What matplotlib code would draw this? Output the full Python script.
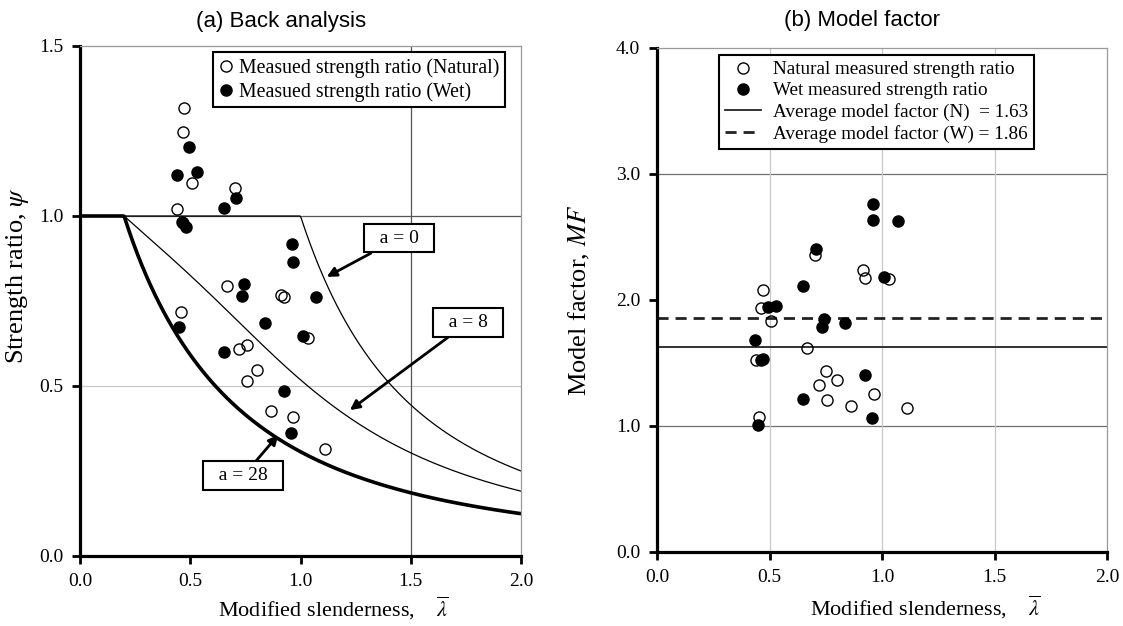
import numpy as np
import matplotlib
matplotlib.use("Agg")
import matplotlib.pyplot as plt

plt.rcParams['font.family'] = ['Liberation Serif', 'DejaVu Serif']
plt.rcParams['mathtext.fontset'] = 'stix'

# ---------------- data ----------------
# (a) Back analysis: modified slenderness vs strength ratio
nat_lam_a = [0.473, 0.466, 0.509, 0.705, 0.441, 0.468, 0.668, 0.913, 0.925, 1.032,
             0.457, 0.723, 0.757, 0.804, 0.759, 0.865, 0.968, 1.110]
nat_psi_a = [1.319, 1.246, 1.098, 1.081, 1.021, 0.978, 0.794, 0.769, 0.763, 0.640,
             0.719, 0.608, 0.622, 0.547, 0.514, 0.427, 0.408, 0.315]
wet_lam_a = [0.493, 0.438, 0.532, 0.653, 0.709, 0.461, 0.481, 0.963, 0.964, 0.745,
             0.736, 1.072, 0.841, 1.011, 0.449, 0.653, 0.925, 0.955]
wet_psi_a = [1.204, 1.121, 1.129, 1.025, 1.052, 0.983, 0.967, 0.918, 0.866, 0.800,
             0.766, 0.762, 0.686, 0.647, 0.673, 0.599, 0.484, 0.363]

# imperfection parameters of the design curves
a_values = [0, 8, 28]
a_widths = [0.9, 0.9, 2.6]

# (b) Model factor
nat_lam_b = [0.703, 0.914, 0.925, 1.032, 0.469, 0.460, 0.506, 0.666, 0.438, 0.753,
             0.801, 0.722, 0.756, 0.863, 0.965, 1.110, 0.453]
nat_mf_b = [2.357, 2.238, 2.175, 2.167, 2.079, 1.939, 1.833, 1.621, 1.524, 1.434,
            1.362, 1.325, 1.206, 1.161, 1.254, 1.143, 1.074]
wet_lam_b = [0.960, 0.962, 1.072, 0.707, 1.011, 0.650, 0.493, 0.531, 0.744, 0.734,
             0.837, 0.436, 0.460, 0.473, 0.924, 0.650, 0.956, 0.447]
wet_mf_b = [2.764, 2.637, 2.624, 2.405, 2.185, 2.113, 1.947, 1.950, 1.852, 1.783,
            1.820, 1.680, 1.522, 1.529, 1.407, 1.214, 1.066, 1.008]
avg_mf_nat = 1.63
avg_mf_wet = 1.86

xticks = [0.0, 0.5, 1.0, 1.5, 2.0]
yticks_a = [0.0, 0.5, 1.0, 1.5]
yticks_b = [0.0, 1.0, 2.0, 3.0, 4.0]


def strength_curve(lam, a):
    eta = 0.07 * a * np.maximum(lam - 0.2, 0.0)
    phi = 0.5 * (1.0 + eta + lam ** 2)
    chi = 1.0 / (phi + np.sqrt(np.maximum(phi ** 2 - lam ** 2, 0.0)))
    return np.minimum(chi, 1.0)


fig = plt.figure(figsize=(11.23, 6.26), dpi=100)
axA = fig.add_axes([80 / 1123, 1 - 556 / 626, 441 / 1123, 510 / 626])
axB = fig.add_axes([657 / 1123, 1 - 552 / 626, 450 / 1123, 504 / 626])

tick_fs = 14
label_fs = 16
ylabel_fs = 19
xlabel_text = r'Modified slenderness,' + '\u2002\u2002' + r'$\overline{\lambda}$'


def style_axes(ax):
    for s in ['left', 'bottom']:
        ax.spines[s].set_linewidth(2.3)
        ax.spines[s].set_color('black')
    for s in ['top', 'right']:
        ax.spines[s].set_linewidth(0.9)
        ax.spines[s].set_color('#9a9a9a')
    ax.tick_params(direction='out', length=6, width=2.0, labelsize=tick_fs,
                   top=False, right=False, pad=6)
    ax.set_xlim(0, 2.0)
    ax.set_xticks(xticks)
    ax.set_xticklabels([f"{v:.1f}" for v in xticks])


# ---------- (a) ----------
style_axes(axA)
axA.set_ylim(0, 1.5)
axA.set_yticks(yticks_a)
axA.set_yticklabels([f"{v:.1f}" for v in yticks_a])
axA.axhline(0.5, color='#c8c8c8', lw=0.9, zorder=0)
axA.axhline(1.0, color='#555555', lw=0.9, zorder=0)
axA.axvline(1.5, color='#555555', lw=0.9, zorder=0)

lam = np.linspace(0.0, 2.0, 400)
for a, w in zip(a_values, a_widths):
    axA.plot(lam, strength_curve(lam, a), color='black', lw=w, zorder=2)

axA.plot(nat_lam_a, nat_psi_a, 'o', ms=8, mfc='none', mec='black', mew=1.0,
         label='Measued strength ratio (Natural)', zorder=3)
axA.plot(wet_lam_a, wet_psi_a, 'o', ms=8, mfc='black', mec='black',
         label='Measued strength ratio (Wet)', zorder=4)

arr = dict(arrowstyle='-|>', color='black', lw=2.0, mutation_scale=14, shrinkA=0, shrinkB=0)
for txt, tip, pos in [('a = 0', (1.119, 0.821), (1.447, 0.935)),
                      ('a = 8', (1.224, 0.429), (1.76, 0.687)),
                      ('a = 28', (0.899, 0.356), (0.741, 0.236))]:
    axA.annotate('  ' + txt + '  ', xy=tip, xytext=pos, fontsize=14,
                 ha='center', va='center',
                 bbox=dict(boxstyle='square,pad=0.3', fc='white', ec='black', lw=1.5),
                 arrowprops=arr, zorder=5)

legA = axA.legend(loc='upper left', bbox_to_anchor=(0.302, 0.988), fontsize=14.3,
                  frameon=True, fancybox=False, edgecolor='black', framealpha=1,
                  handlelength=0.7, handletextpad=0.3, borderpad=0.3,
                  borderaxespad=0, labelspacing=0.2)
legA.get_frame().set_linewidth(1.5)

axA.set_xlabel(xlabel_text, fontsize=label_fs)
axA.xaxis.set_label_coords(0.574, -0.075)
axA.set_ylabel(r'Strength ratio, $\psi$', fontsize=ylabel_fs)
axA.yaxis.set_label_coords(-0.11, 0.55)
axA.set_title('(a) Back analysis', fontsize=16, family=['Liberation Sans', 'DejaVu Sans'],
              pad=14, x=0.455)

# ---------- (b) ----------
style_axes(axB)
axB.set_ylim(0, 4.0)
axB.set_yticks(yticks_b)
axB.set_yticklabels([f"{v:.1f}" for v in yticks_b])
for yv in [1.0, 3.0]:
    axB.axhline(yv, color='#707070', lw=0.9, zorder=0)
for xv in [0.5, 1.0, 1.5]:
    axB.axvline(xv, color='#c8c8c8', lw=0.9, zorder=0)

axB.plot(nat_lam_b, nat_mf_b, 'o', ms=8, mfc='none', mec='black', mew=1.0,
         label='Natural measured strength ratio', zorder=3)
axB.plot(wet_lam_b, wet_mf_b, 'o', ms=8, mfc='black', mec='black',
         label='Wet measured strength ratio', zorder=4)
axB.axhline(avg_mf_nat, color='#222222', lw=1.3, zorder=2,
            label=f'Average model factor (N)  = {avg_mf_nat:.2f}')
axB.axhline(avg_mf_wet, color='#222222', lw=2.0, ls=(0, (4, 2.5)), zorder=2,
            label=f'Average model factor (W) = {avg_mf_wet:.2f}')

legB = axB.legend(loc='upper left', bbox_to_anchor=(0.138, 0.986), fontsize=13.8,
                  frameon=True, fancybox=False, edgecolor='black', framealpha=1,
                  handlelength=1.9, handletextpad=0.6, borderpad=0.3,
                  borderaxespad=0, labelspacing=0.2)
legB.get_frame().set_linewidth(1.5)

axB.set_xlabel(xlabel_text, fontsize=label_fs)
axB.xaxis.set_label_coords(0.596, -0.082)
axB.set_ylabel(r'Model factor, $MF$', fontsize=ylabel_fs)
axB.yaxis.set_label_coords(-0.145, 0.5)
axB.set_title('(b) Model factor', fontsize=16, family=['Liberation Sans', 'DejaVu Sans'],
              pad=16, x=0.455)

fig.savefig('out.png', dpi=100)
